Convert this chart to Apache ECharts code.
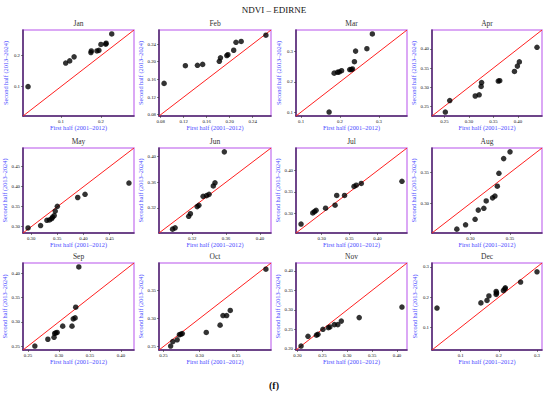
<!DOCTYPE html>
<html>
<head>
<meta charset="utf-8">
<script src="https://cdn.jsdelivr.net/npm/echarts@6/dist/echarts.min.js"></script>
<style>
html,body{margin:0;padding:0;background:#fff;}
#chart{width:550px;height:394px;}
</style>
</head>
<body>
<div id="chart"></div>
<script>
const months = ["Jan","Feb","Mar","Apr","May","Jun","Jul","Aug","Sep","Oct","Nov","Dec"];

// First half (2001–2012) = x, Second half (2013–2024) = y
const janX = [0.018,0.112,0.122,0.133,0.175,0.176,0.190,0.195,0.200,0.212,0.213,0.227];
const janY = [0.100,0.176,0.183,0.196,0.210,0.215,0.215,0.217,0.236,0.237,0.240,0.270];
const febX = [0.086,0.123,0.144,0.153,0.182,0.184,0.195,0.197,0.207,0.211,0.220,0.263];
const febY = [0.151,0.191,0.192,0.194,0.201,0.209,0.214,0.216,0.226,0.244,0.246,0.260];
const marX = [0.172,0.185,0.194,0.198,0.204,0.225,0.229,0.232,0.237,0.240,0.269,0.283];
const marY = [0.100,0.229,0.232,0.233,0.237,0.241,0.241,0.243,0.267,0.302,0.310,0.359];
const aprX = [0.252,0.261,0.313,0.321,0.325,0.326,0.360,0.363,0.393,0.399,0.403,0.439];
const aprY = [0.235,0.265,0.277,0.280,0.302,0.312,0.316,0.317,0.341,0.355,0.366,0.404];
const mayX = [0.294,0.318,0.330,0.335,0.339,0.341,0.344,0.346,0.350,0.389,0.403,0.487];
const mayY = [0.297,0.303,0.316,0.317,0.320,0.324,0.328,0.339,0.351,0.373,0.381,0.409];
const junX = [0.297,0.300,0.316,0.318,0.326,0.328,0.333,0.337,0.340,0.345,0.347,0.358];
const junY = [0.287,0.289,0.307,0.311,0.322,0.324,0.338,0.339,0.341,0.354,0.359,0.407];
const julX = [0.263,0.284,0.287,0.290,0.307,0.324,0.327,0.341,0.358,0.362,0.371,0.444];
const julY = [0.275,0.301,0.304,0.307,0.312,0.319,0.342,0.342,0.363,0.366,0.370,0.375];
const augX = [0.283,0.294,0.306,0.310,0.317,0.320,0.328,0.331,0.334,0.336,0.342,0.350];
const augY = [0.258,0.265,0.274,0.289,0.292,0.304,0.309,0.312,0.328,0.349,0.373,0.384];
const sepX = [0.261,0.282,0.292,0.293,0.295,0.297,0.306,0.321,0.323,0.326,0.327,0.332];
const sepY = [0.250,0.264,0.268,0.276,0.277,0.278,0.291,0.291,0.306,0.308,0.330,0.413];
const octX = [0.260,0.263,0.269,0.272,0.274,0.276,0.309,0.328,0.332,0.337,0.342,0.391];
const octY = [0.251,0.259,0.262,0.271,0.272,0.273,0.275,0.288,0.305,0.305,0.314,0.387];
const novX = [0.207,0.221,0.238,0.241,0.251,0.262,0.265,0.274,0.281,0.288,0.324,0.410];
const novY = [0.207,0.232,0.235,0.237,0.250,0.254,0.256,0.262,0.262,0.271,0.280,0.307];
const decX = [0.038,0.153,0.169,0.174,0.193,0.193,0.194,0.212,0.216,0.217,0.257,0.300];
const decY = [0.164,0.181,0.189,0.204,0.209,0.219,0.214,0.222,0.227,0.231,0.250,0.284];

const xValues = [janX,febX,marX,aprX,mayX,junX,julX,augX,sepX,octX,novX,decX];
const yValues = [janY,febY,marY,aprY,mayY,junY,julY,augY,sepY,octY,novY,decY];

const ticksJan = ["0.1","0.2"];
const ticksFeb = ["0.08","0.12","0.16","0.20","0.24"];
const ticksMar = ["0.1","0.2","0.3"];
const ticksApr = ["0.25","0.30","0.35","0.40"];
const ticksMay = ["0.30","0.35","0.40","0.45"];
const ticksJun = ["0.32","0.36","0.40"];
const ticksJul = ["0.30","0.35","0.40"];
const ticksAug = ["0.30","0.35"];
const ticksSep = ["0.25","0.30","0.35","0.40"];
const ticksOct = ["0.25","0.30","0.35"];
const ticksNov = ["0.20","0.25","0.30","0.35","0.40"];
const ticksDec = ["0.1","0.2","0.3"];
const tickLabels = [ticksJan,ticksFeb,ticksMar,ticksApr,ticksMay,ticksJun,ticksJul,ticksAug,ticksSep,ticksOct,ticksNov,ticksDec];

const mainTitle = "NDVI – EDIRNE";
const panelTag = "(f)";
const xName = "First half (2001–2012)";
const yName = "Second half (2013–2024)";

// layout
const colLeft = [23,159,296,432];
const colWidth = [111,112,111,110];
const rowTop = [30,148,263];
const rowHeight = [86,85,87];

const FONT = '"Liberation Serif","Times New Roman",serif';
const DARK = '#4a2466';
const LIGHT = '#cf8cf2';
const BLUE = '#4a4aff';

const grids = [], xAxes = [], yAxes = [], series = [], graphics = [];

months.forEach((m, i) => {
  const r = Math.floor(i/4), c = i%4;
  const xs = xValues[i], ys = yValues[i];
  const all = xs.concat(ys);
  const lo0 = Math.min(...all), hi0 = Math.max(...all);
  const pad = (hi0-lo0)*0.05;
  const lo = lo0-pad, hi = hi0+pad;
  const ticks = tickLabels[i];
  const tickVals = ticks.map(Number);
  const fmt = v => { const k = tickVals.findIndex(t => Math.abs(t-v)<1e-9); return k>=0 ? ticks[k] : ''; };

  grids.push({left:colLeft[c], top:rowTop[r], width:colWidth[c], height:rowHeight[r],
    show:true, borderColor:LIGHT, borderWidth:1.5, backgroundColor:'#fff', containLabel:false});

  const axisCommon = {
    gridIndex:i, type:'value', min:lo, max:hi, splitLine:{show:false},
    axisLine:{show:true, onZero:false, lineStyle:{color:DARK, width:1.5}},
    axisTick:{show:true, length:2, lineStyle:{color:'#333', width:0.6}, customValues:tickVals},
    nameLocation:'middle',
    nameTextStyle:{color:BLUE, fontFamily:FONT, fontSize:6.3}
  };
  xAxes.push(Object.assign({}, axisCommon, {
    position:'bottom', name:xName, nameGap:8,
    axisLabel:{show:true, fontFamily:FONT, fontSize:4.8, color:'#111', margin:2.5, customValues:tickVals, formatter:fmt}
  }));
  yAxes.push(Object.assign({}, axisCommon, {
    position:'left', name:yName, nameGap:15,
    axisLabel:{show:true, fontFamily:FONT, fontSize:4.8, color:'#111', margin:3, customValues:tickVals, formatter:fmt}
  }));

  series.push({type:'line', xAxisIndex:i, yAxisIndex:i, data:[[lo,lo],[hi,hi]],
    symbol:'none', silent:true, lineStyle:{color:'#ff2020', width:1}, z:2, animation:false});
  series.push({type:'scatter', xAxisIndex:i, yAxisIndex:i, data:xs.map((x,k)=>[x, ys[k]]),
    symbolSize:5.5, itemStyle:{color:'#000'}, z:3, animation:false});

  graphics.push({type:'text', x:colLeft[c]+colWidth[c]/2, y:rowTop[r]-7,
    style:{text:m, fontFamily:FONT, fontSize:7.5, fill:'#333333', align:'center', verticalAlign:'middle'}});
});

graphics.push({type:'text', x:274, y:10,
  style:{text:mainTitle, fontFamily:FONT, fontSize:9, fill:'#111111', align:'center', verticalAlign:'middle'}});
graphics.push({type:'text', x:274, y:385,
  style:{text:panelTag, fontFamily:FONT, fontSize:10, fontWeight:'bold', fill:'#111111', align:'center', verticalAlign:'middle'}});

const chart = echarts.init(document.getElementById('chart'), null, {renderer:'svg', width:550, height:394});
chart.setOption({
  animation:false,
  backgroundColor:'#fff',
  grid:grids, xAxis:xAxes, yAxis:yAxes, series:series, graphic:graphics
});
</script>
</body>
</html>
